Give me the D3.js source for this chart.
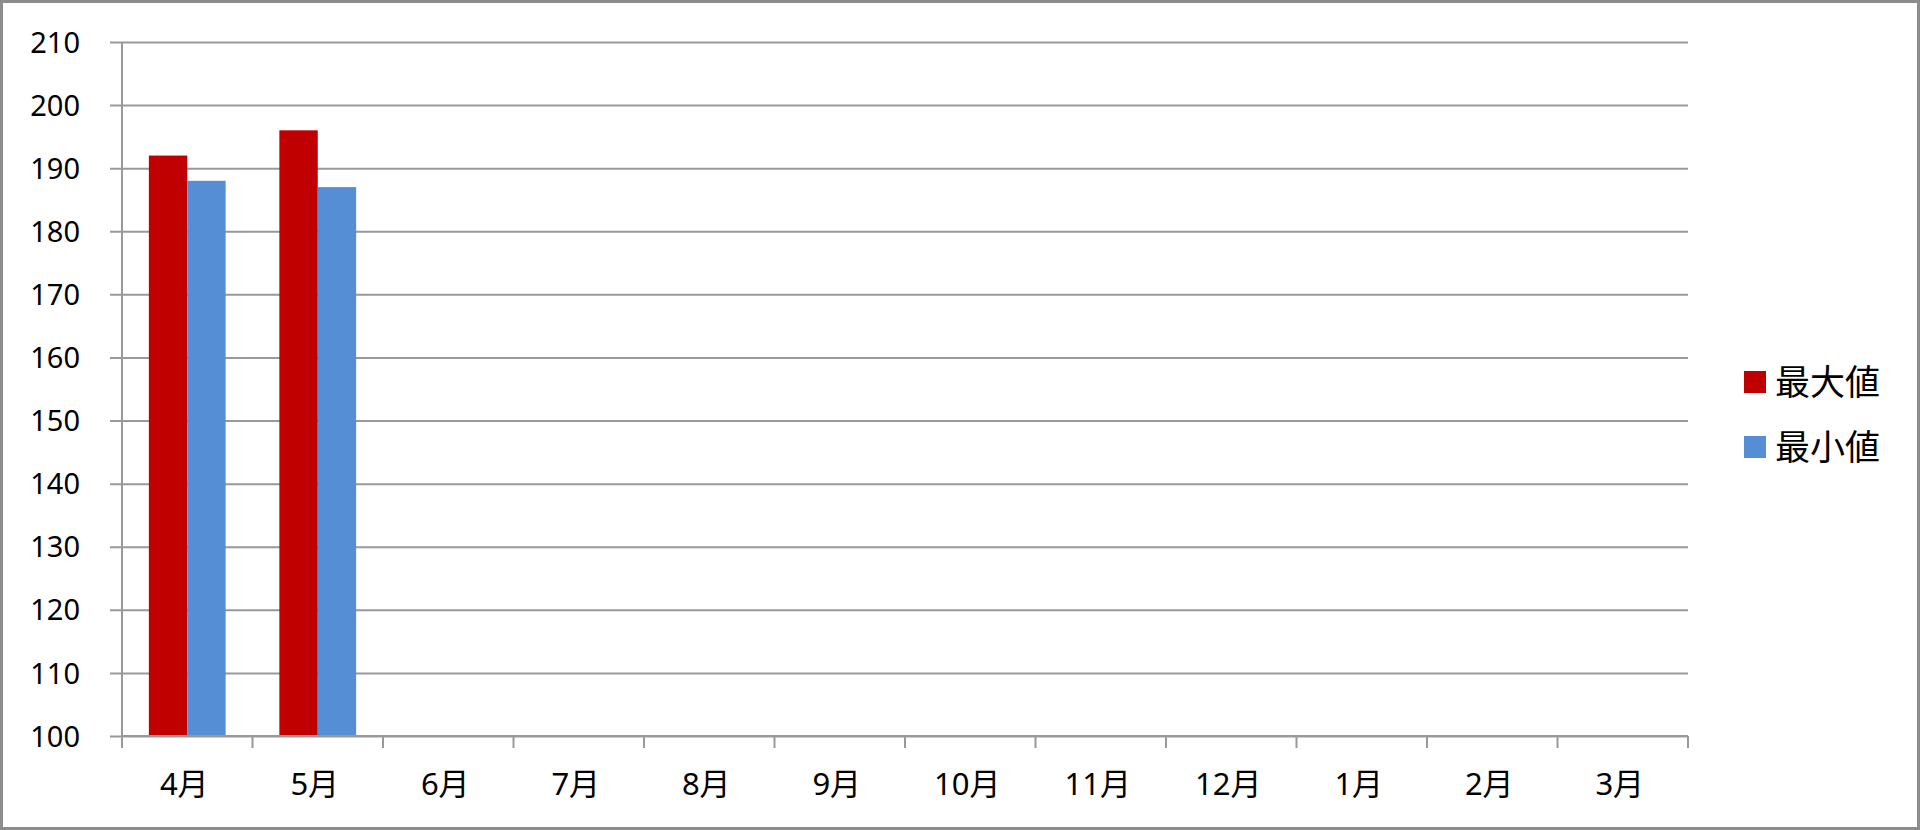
<!DOCTYPE html>
<html>
<head>
<meta charset="utf-8">
<script src="https://cdn.jsdelivr.net/npm/d3@7"></script>
<style>
  body { margin: 0; background: #fff; }
  svg { display: block; }
  text { font-family: "Noto Sans", "Noto Sans CJK JP", sans-serif; fill: #000; }
</style>
</head>
<body>
<svg width="1920" height="830"></svg>
<script>
const months = ['4月', '5月', '6月', '7月', '8月', '9月', '10月', '11月', '12月', '1月', '2月', '3月'];
const seriesNames = ['最大値', '最小値'];
const maxValues = [192, 196, null, null, null, null, null, null, null, null, null, null];
const minValues = [188, 187, null, null, null, null, null, null, null, null, null, null];
const yTicks = [100, 110, 120, 130, 140, 150, 160, 170, 180, 190, 200, 210];
const colors = ['#c00000', '#558ed5'];

const svg = d3.select('svg');
const width = +svg.attr('width');
const height = +svg.attr('height');

// outer frame
svg.append('rect')
    .attr('x', 1.5).attr('y', 1.5)
    .attr('width', width - 3).attr('height', height - 3)
    .attr('fill', '#fff')
    .attr('stroke', '#8c8c8c')
    .attr('stroke-width', 3);

const margin = { top: 42, right: 232, bottom: 94, left: 122 };
const innerWidth = width - margin.left - margin.right;
const innerHeight = height - margin.top - margin.bottom;

const g = svg.append('g')
    .attr('transform', `translate(${margin.left},${margin.top})`);

const xScale = d3.scaleBand()
    .domain(months)
    .range([0, innerWidth]);

const xInner = d3.scaleBand()
    .domain(seriesNames)
    .range([0, xScale.bandwidth()])
    .paddingOuter(0.7);

const yScale = d3.scaleLinear()
    .domain([100, 210])
    .range([innerHeight, 0]);

// y axis with gridlines
const yAxis = d3.axisLeft(yScale)
    .tickValues(yTicks)
    .tickSize(-innerWidth)
    .tickPadding(0);

const yAxisG = g.append('g').call(yAxis);
yAxisG.select('.domain').remove();
yAxisG.selectAll('.tick line')
    .attr('x1', -12)
    .attr('stroke', '#999')
    .attr('stroke-width', 2);
yAxisG.selectAll('.tick text')
    .attr('x', -42)
    .attr('font-size', 29)
    .attr('dy', '0.35em');

// vertical axis line
g.append('line')
    .attr('x1', 0).attr('x2', 0)
    .attr('y1', 0).attr('y2', innerHeight)
    .attr('stroke', '#999')
    .attr('stroke-width', 2);

// bars
const seriesData = [maxValues, minValues];
seriesData.forEach((values, si) => {
    g.selectAll(`.bar-${si}`)
        .data(months.map((m, i) => ({ m, v: values[i] })).filter(d => d.v != null))
        .enter().append('rect')
            .attr('class', `bar-${si}`)
            .attr('x', d => xScale(d.m) + xInner(seriesNames[si]))
            .attr('y', d => yScale(d.v))
            .attr('width', xInner.bandwidth())
            .attr('height', d => innerHeight - yScale(d.v))
            .attr('fill', colors[si]);
});

// x axis
const xAxisG = g.append('g')
    .attr('transform', `translate(0,${innerHeight})`);

xAxisG.append('line')
    .attr('x1', 0).attr('x2', innerWidth)
    .attr('stroke', '#999')
    .attr('stroke-width', 2);

xAxisG.selectAll('.xtick')
    .data(d3.range(months.length + 1))
    .enter().append('line')
        .attr('x1', i => i * xScale.step())
        .attr('x2', i => i * xScale.step())
        .attr('y1', 0).attr('y2', 12)
        .attr('stroke', '#999')
        .attr('stroke-width', 2);

xAxisG.selectAll('.xlabel')
    .data(months)
    .enter().append('text')
        .attr('x', d => xScale(d) + xScale.bandwidth() / 2 - 3)
        .attr('y', 59)
        .attr('text-anchor', 'middle')
        .attr('font-size', 31)
        .text(d => d);

// legend
const legend = svg.append('g')
    .attr('transform', 'translate(1744,382)');

seriesNames.forEach((name, i) => {
    const row = legend.append('g')
        .attr('transform', `translate(0,${i * 65})`);
    row.append('rect')
        .attr('x', 0).attr('y', -11)
        .attr('width', 22).attr('height', 22)
        .attr('fill', colors[i]);
    row.append('text')
        .attr('x', 31)
        .attr('dy', '0.36em')
        .attr('font-size', 35)
        .text(name);
});
</script>
</body>
</html>
